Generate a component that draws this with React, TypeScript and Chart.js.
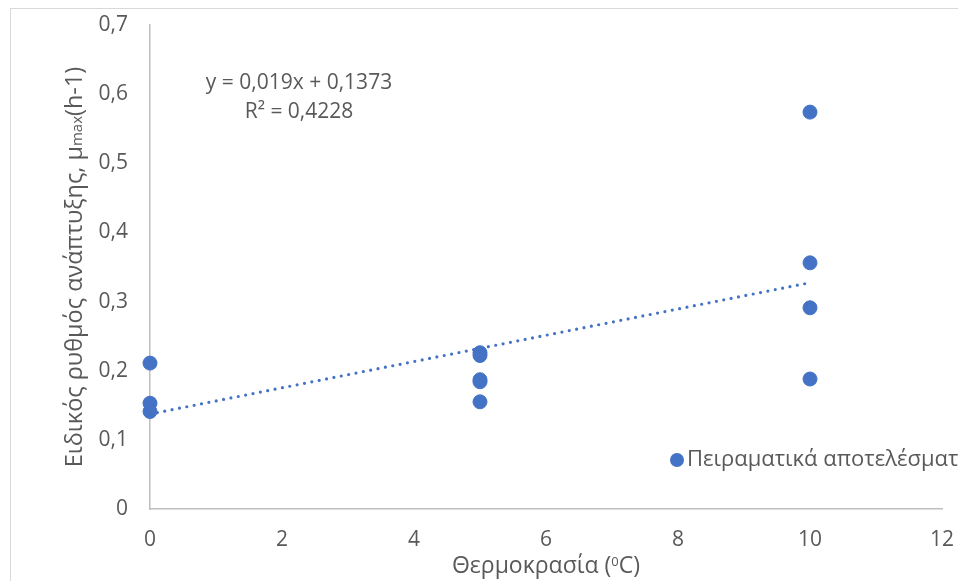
import React, { useEffect, useRef } from 'react';
import { Chart, registerables } from 'chart.js';

Chart.register(...registerables);

// Measured specific growth rates (h-1) at each incubation temperature (°C)
const temperatures = [0, 0, 0, 5, 5, 5, 5, 5, 10, 10, 10, 10];
const growthRates = [0.211, 0.153, 0.141, 0.226, 0.222, 0.187, 0.184, 0.155, 0.574, 0.356, 0.291, 0.188];

// Linear trend line fitted to the measurements
const TREND_SLOPE = 0.019;
const TREND_INTERCEPT = 0.1373;
const TREND_R2 = 0.4228;
const TREND_X_RANGE = [0, 10];

const xTickValues = [0, 2, 4, 6, 8, 10, 12];
const yTickValues = [0, 0.1, 0.2, 0.3, 0.4, 0.5, 0.6, 0.7];

const SERIES_LABEL = 'Πειραματικά αποτελέσματα';
const X_TITLE = ['Θερμοκρασία (', '0', 'C)'];
const Y_TITLE = ['Ειδικός ρυθμός ανάπτυξης, μ', 'max', '(h-1)'];

const BLUE = '#4472C4';
const TEXT = '#595959';
const AXIS = '#BFBFBF';
const FONT = '"Open Sans", Lato, sans-serif';

const commaNum = (v: number) => String(v).replace('.', ',');

const decorations = {
  id: 'decorations',
  afterDraw(chart: any) {
    const { ctx, chartArea } = chart;
    ctx.save();

    // outer frame of the chart object
    ctx.strokeStyle = '#D9D9D9';
    ctx.lineWidth = 1;
    ctx.strokeRect(10.5, 8.5, 2000, 2000);

    ctx.fillStyle = TEXT;
    ctx.textBaseline = 'middle';

    // trend line equation
    ctx.font = `21px ${FONT}`;
    ctx.textAlign = 'center';
    const eqX = chartArea.left + 149;
    ctx.fillText(`y = ${commaNum(TREND_SLOPE)}x + ${commaNum(TREND_INTERCEPT)}`, eqX, 83);
    ctx.fillText(`R² = ${commaNum(TREND_R2)}`, eqX, 112);

    // legend entry
    ctx.beginPath();
    ctx.fillStyle = BLUE;
    ctx.arc(677, 460, 7, 0, Math.PI * 2);
    ctx.fill();
    ctx.fillStyle = TEXT;
    ctx.textAlign = 'left';
    ctx.font = `22px ${FONT}`;
    ctx.fillText(chart.data.datasets[0].label, 687, 460);

    // x-axis title with superscript zero
    const big = `23px ${FONT}`;
    const small = `13px ${FONT}`;
    ctx.textBaseline = 'alphabetic';
    ctx.font = big;
    const w0 = ctx.measureText(X_TITLE[0]).width;
    const w2 = ctx.measureText(X_TITLE[2]).width;
    ctx.font = small;
    const w1 = ctx.measureText(X_TITLE[1]).width;
    const xMid = (chartArea.left + chartArea.right) / 2;
    let x = xMid - (w0 + w1 + w2) / 2;
    const baseY = 573;
    ctx.font = big;
    ctx.fillText(X_TITLE[0], x, baseY);
    x += w0;
    ctx.font = small;
    ctx.fillText(X_TITLE[1], x, baseY - 7);
    x += w1;
    ctx.font = big;
    ctx.fillText(X_TITLE[2], x, baseY);

    // rotated y-axis title with smaller "max"
    const sizes = [23.5, 15, 23.5];
    const widths = Y_TITLE.map((t, i) => {
      ctx.font = `${sizes[i]}px ${FONT}`;
      return ctx.measureText(t).width;
    });
    const total = widths.reduce((a, b) => a + b, 0);
    const yMid = (chartArea.top + chartArea.bottom) / 2;
    ctx.translate(82, yMid);
    ctx.rotate(-Math.PI / 2);
    let p = -total / 2;
    Y_TITLE.forEach((t, i) => {
      ctx.font = `${sizes[i]}px ${FONT}`;
      ctx.fillText(t, p, 0);
      p += widths[i];
    });

    ctx.restore();
  },
};

export default function App() {
  const canvasRef = useRef<HTMLCanvasElement | null>(null);

  useEffect(() => {
    if (!canvasRef.current) return;
    const points = temperatures.map((t, i) => ({ x: t, y: growthRates[i] }));
    const trend = TREND_X_RANGE.map((t) => ({ x: t, y: TREND_INTERCEPT + TREND_SLOPE * t }));

    const tickFont = { family: FONT, size: 21 };

    const chart = new Chart(canvasRef.current, {
      type: 'scatter',
      data: {
        datasets: [
          {
            label: SERIES_LABEL,
            data: points,
            backgroundColor: BLUE,
            borderColor: BLUE,
            pointRadius: 7,
            pointBorderWidth: 1,
            clip: false,
            order: 2,
          } as any,
          {
            type: 'line',
            label: 'trend',
            data: trend,
            borderColor: BLUE,
            borderWidth: 3.2,
            borderDash: [0, 7.5],
            borderCapStyle: 'round',
            pointRadius: 0,
            fill: false,
            clip: false,
            order: 1,
          } as any,
        ],
      },
      options: {
        responsive: false,
        animation: false,
        layout: { padding: { left: 0, right: 16, top: 25, bottom: 0 } },
        plugins: {
          legend: { display: false },
          tooltip: { enabled: false },
        },
        scales: {
          x: {
            type: 'linear',
            min: xTickValues[0],
            max: xTickValues[xTickValues.length - 1],
            afterBuildTicks: (s: any) => {
              s.ticks = xTickValues.map((v) => ({ value: v }));
            },
            ticks: { color: TEXT, font: tickFont, padding: 18, callback: (v: any) => commaNum(v) },
            grid: { display: false, drawTicks: false },
            border: { display: true, color: AXIS, width: 1.5 },
            afterFit: (s: any) => {
              s.height = 72;
              s.paddingLeft = 0;
              s.paddingRight = 0;
            },
          },
          y: {
            type: 'linear',
            min: yTickValues[0],
            max: yTickValues[yTickValues.length - 1],
            afterBuildTicks: (s: any) => {
              s.ticks = yTickValues.map((v) => ({ value: v }));
            },
            ticks: { color: TEXT, font: tickFont, padding: 22, callback: (v: any) => commaNum(Number(Number(v).toFixed(1))) },
            grid: { display: false, drawTicks: false },
            border: { display: true, color: AXIS, width: 1.5 },
            afterFit: (s: any) => {
              s.width = 150;
              s.paddingTop = 0;
              s.paddingBottom = 0;
            },
          },
        },
      } as any,
      plugins: [decorations],
    });
    return () => chart.destroy();
  }, []);

  return (
    <div style={{ position: 'absolute', left: 0, top: 0, width: 958, height: 581, background: '#fff', overflow: 'hidden' }}>
      <canvas ref={canvasRef} width={958} height={581} style={{ display: 'block' }} />
    </div>
  );
}
